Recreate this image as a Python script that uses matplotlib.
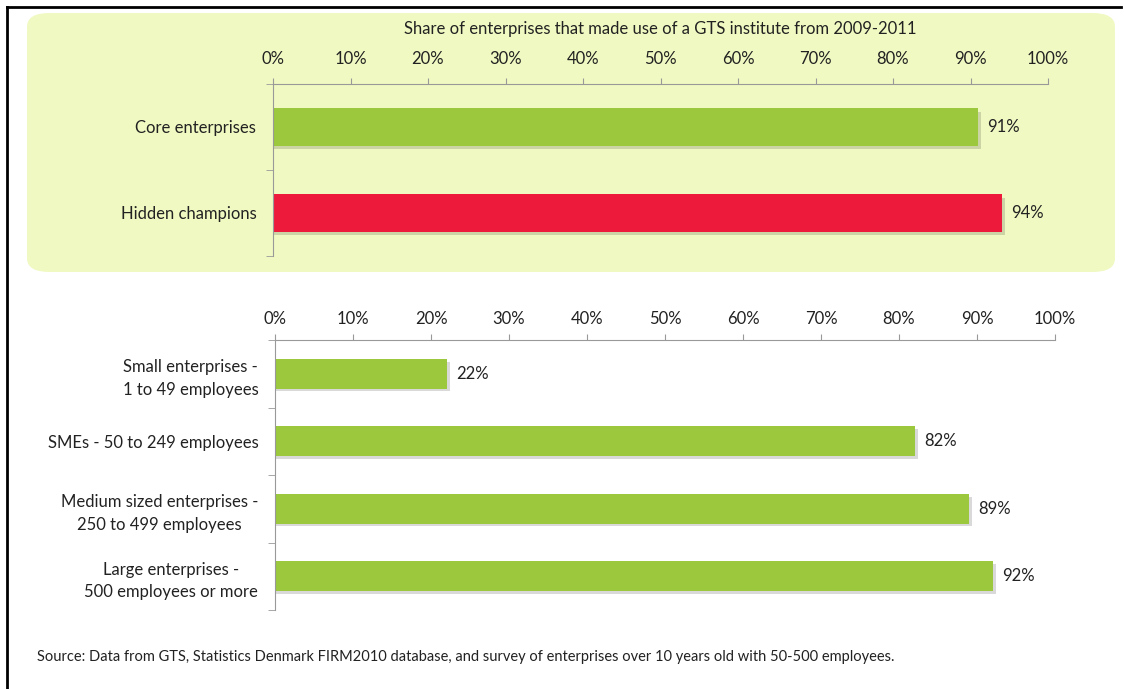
import matplotlib.pyplot as plt
from matplotlib.patches import FancyBboxPatch
from matplotlib.lines import Line2D

plt.rcParams['font.family'] = ['Lato', 'DejaVu Sans']

# data
top_labels = ['Core enterprises', 'Hidden champions']
top_values = [91, 94]
top_colors = ['#9BC83C', '#EE1A3C']

bottom_labels = ['Small enterprises -\n1 to 49 employees', 'SMEs - 50 to 249 employees',
                 'Medium sized enterprises -\n250 to 499 employees', 'Large enterprises -\n500 employees or more']
bottom_values = [22, 82, 89, 92]

ticks = list(range(0, 101, 10))
title = 'Share of enterprises that made use of a GTS institute from 2009-2011'
source = ('Source: Data from GTS, Statistics Denmark FIRM2010 database, and survey of '
          'enterprises over 10 years old with 50-500 employees.')

FS = 12
W, H = 1124, 689
fig = plt.figure(figsize=(W / 100, H / 100), dpi=100)

# light green panel behind the top chart
panel = FancyBboxPatch((27 / W, 1 - 272 / H), (1115 - 27) / W, (272 - 13) / H,
                       boxstyle='round,pad=0,rounding_size=0.02', transform=fig.transFigure,
                       facecolor='#F0F9C1', edgecolor='none', zorder=-5)
fig.patches.append(panel)

# black frame on top and left
fig.add_artist(Line2D([7 / W, 1121 / W], [1 - 7 / H, 1 - 7 / H], color='black', lw=2,
                      transform=fig.transFigure))
fig.add_artist(Line2D([7 / W, 7 / W], [1 - 7 / H, 0], color='black', lw=2,
                      transform=fig.transFigure))


def style_axis(ax, labels, values, colors, height, xpad):
    n = len(labels)
    pos = list(range(n))
    # soft shadow
    ax.barh([p + 0.04 for p in pos], [v + 0.4 for v in values], height=height, left=0,
            color='#000000', alpha=0.15, zorder=1)
    ax.barh(pos, values, height=height, color=colors, zorder=2)
    for p, v in zip(pos, values):
        ax.text(v + 1.2, p, f'{v}%', va='center', ha='left', fontsize=FS, color='#222222')
    ax.set_xlim(0, 100)
    ax.set_ylim(n - 0.5, -0.5)
    ax.set_xticks(ticks)
    ax.set_xticklabels([f'{t}%' for t in ticks], fontsize=FS, color='#222222')
    ax.xaxis.tick_top()
    ax.tick_params(axis='x', direction='out', length=4, color='#999999', pad=xpad)
    ax.set_yticks(pos)
    ax.set_yticklabels(labels, fontsize=FS, color='#222222', linespacing=1.5,
                       multialignment='center')
    ax.set_yticks([p + 0.5 for p in range(-1, n)], minor=True)
    ax.tick_params(axis='y', which='major', length=0, pad=12)
    ax.tick_params(axis='y', which='minor', length=5, color='#999999', direction='out')
    for s in ['right', 'bottom']:
        ax.spines[s].set_visible(False)
    for s in ['top', 'left']:
        ax.spines[s].set_color('#999999')
    ax.patch.set_alpha(0)


ax1 = fig.add_axes([273 / W, 1 - 256 / H, (1048 - 273) / W, (256 - 84) / H])
ax1.set_zorder(2)
style_axis(ax1, top_labels, top_values, top_colors, 0.44, 8)
ax1.set_title(title, fontsize=FS, color='#222222', pad=36)

ax2 = fig.add_axes([275 / W, 1 - 610 / H, (1055 - 275) / W, (610 - 340) / H])
style_axis(ax2, bottom_labels, bottom_values, ['#9BC83C'] * 4, 0.44, 5)

fig.text(37 / W, 1 - 657 / H, source, fontsize=10.5, color='#222222', va='center', ha='left')

fig.savefig('out.png', dpi=100)
